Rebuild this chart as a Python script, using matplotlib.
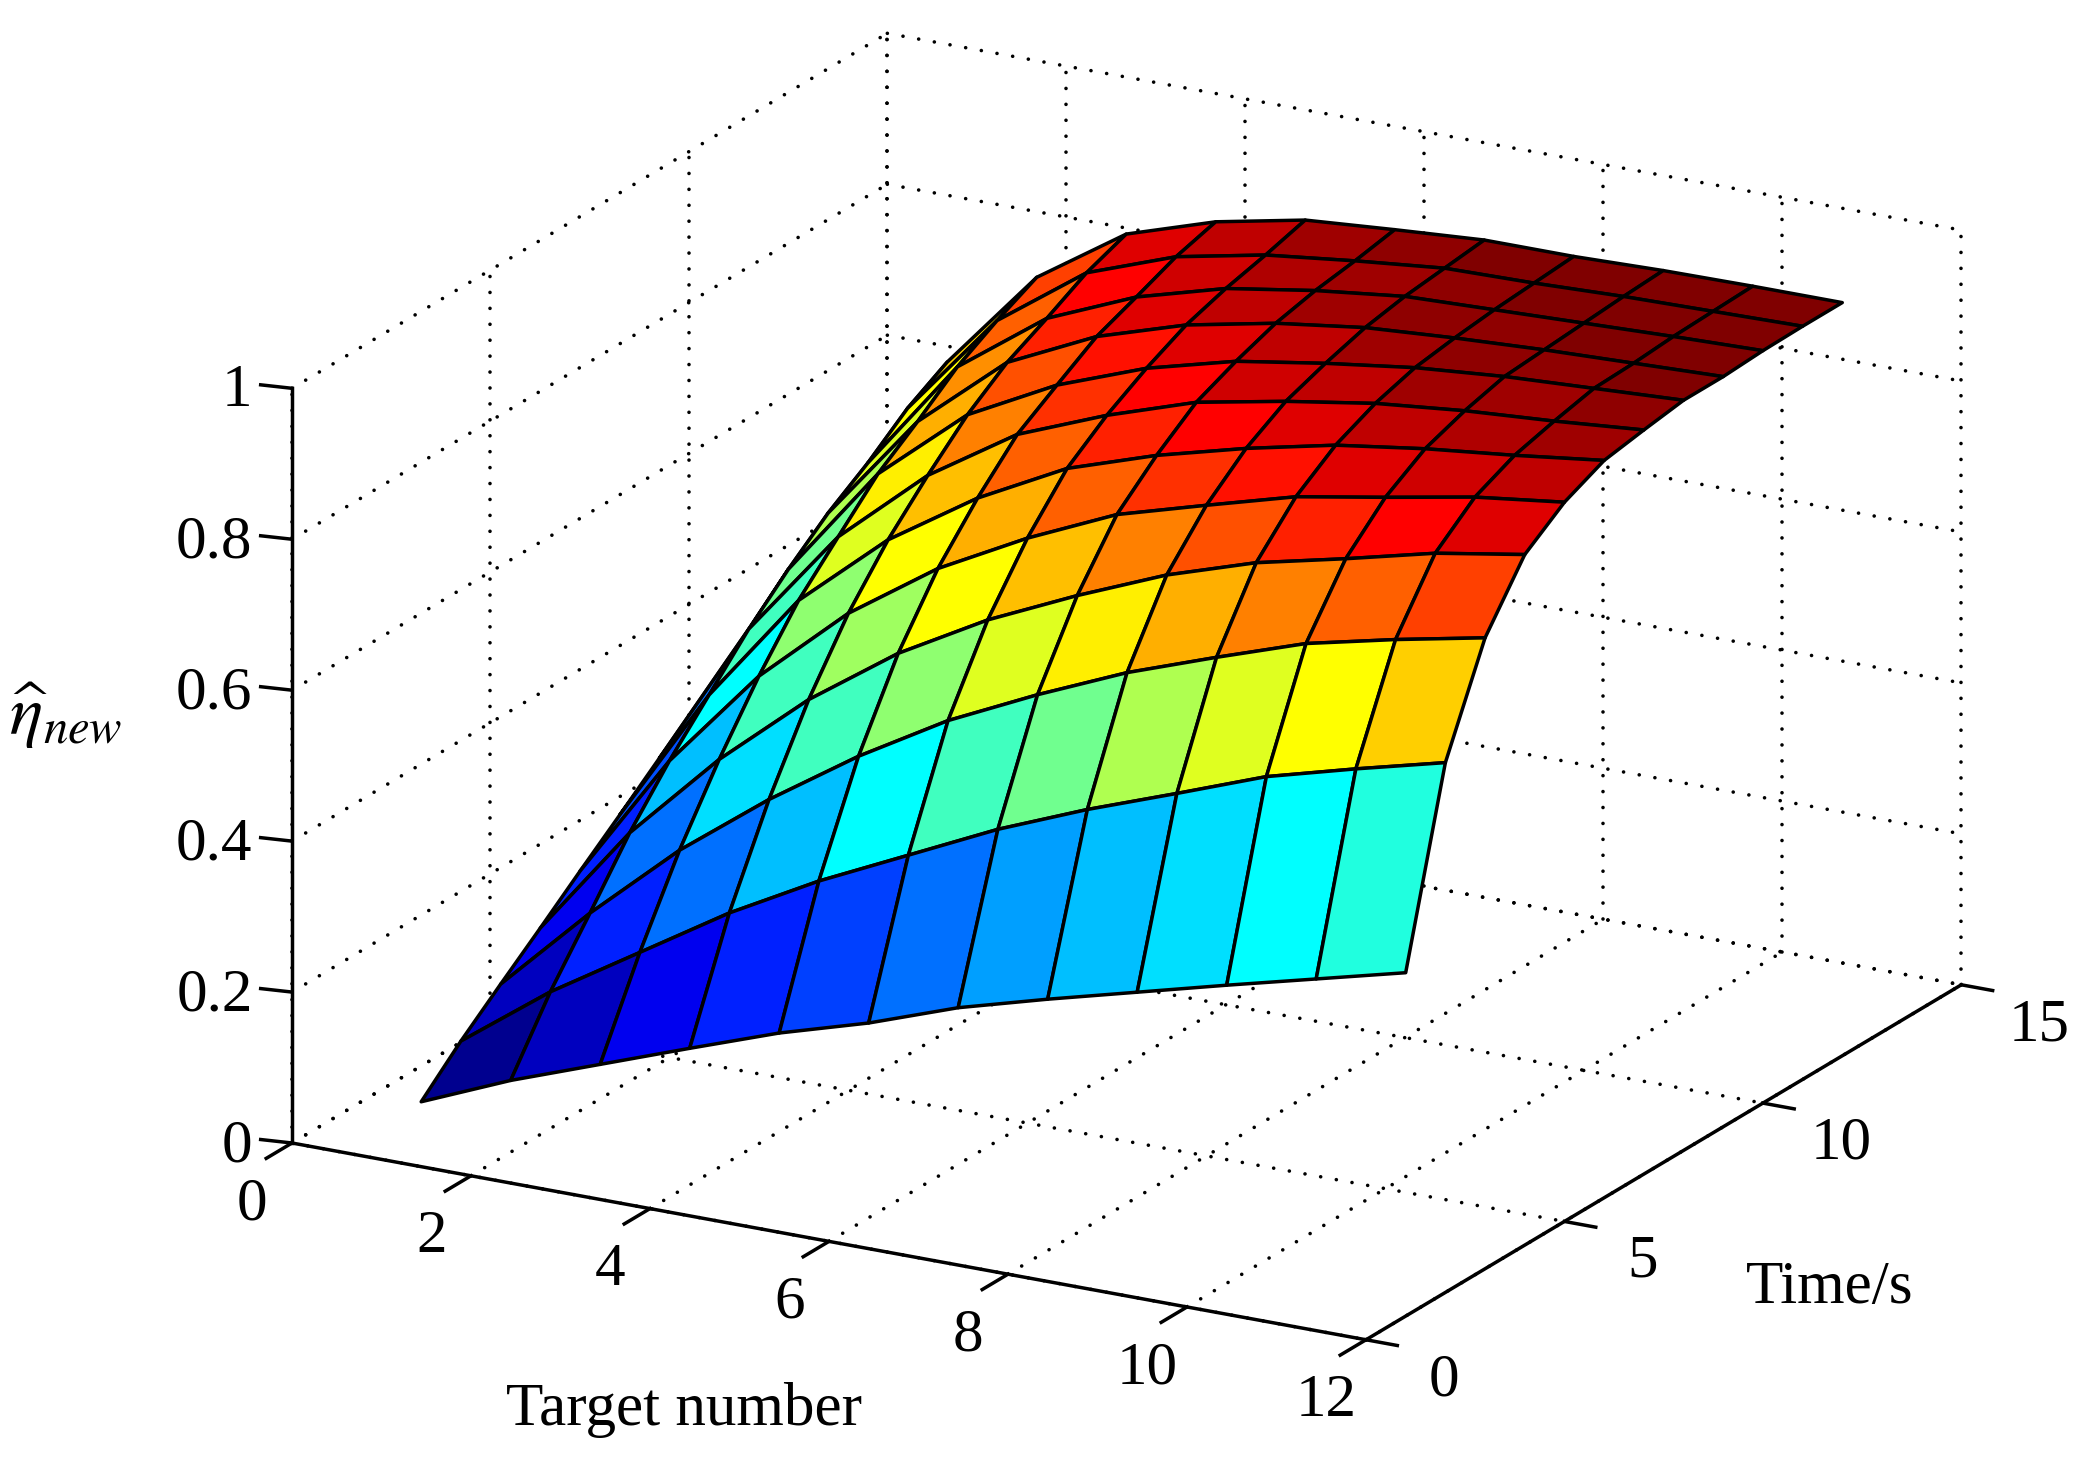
import numpy as np
import matplotlib
matplotlib.use('Agg')
import matplotlib.pyplot as plt
from matplotlib.colors import ListedColormap
from mpl_toolkits.mplot3d import proj3d

plt.rcParams['font.family'] = ['Liberation Serif', 'DejaVu Serif']
plt.rcParams['mathtext.fontset'] = 'stix'

# surface values, one list for each time step
target_number = [1, 2, 3, 4, 5, 6, 7, 8, 9, 10, 11, 12]
time_s = [1, 2, 3, 4, 5, 6, 7, 8, 9, 10, 11, 12]
eta_t1 = [.045, .095, .138, .181, .223, .258, .300, .333, .364, .395, .425, .455]
eta_t2 = [.094, .181, .255, .329, .393, .449, .505, .553, .596, .640, .672, .702]
eta_t3 = [.138, .254, .359, .448, .527, .596, .652, .703, .745, .785, .812, .836]
eta_t4 = [.181, .329, .448, .549, .632, .698, .752, .801, .839, .866, .895, .915]
eta_t5 = [.225, .393, .527, .632, .713, .775, .828, .862, .895, .916, .938, .953]
eta_t6 = [.268, .449, .596, .698, .775, .836, .875, .906, .932, .949, .962, .977]
eta_t7 = [.312, .505, .649, .752, .828, .875, .914, .937, .956, .968, .976, .986]
eta_t8 = [.350, .553, .701, .801, .862, .906, .937, .956, .972, .982, .988, .994]
eta_t9 = [.385, .596, .739, .839, .895, .932, .956, .972, .980, .986, .990, .994]
eta_t10 = [.420, .631, .780, .866, .916, .949, .968, .982, .986, .990, .994, .997]
eta_t11 = [.450, .672, .810, .895, .938, .962, .976, .988, .990, .994, .996, .998]
eta_t12 = [.480, .702, .836, .915, .953, .977, .986, .994, .994, .997, .998, .998]

x_ticks = [0, 2, 4, 6, 8, 10, 12]
y_ticks = [0, 5, 10, 15]
z_ticks = [0, 0.2, 0.4, 0.6, 0.8, 1]
z_tick_labels = ['0', '0.2', '0.4', '0.6', '0.8', '1']

fig = plt.figure(figsize=(20.79, 14.6), dpi=100)
ax = fig.add_axes([0, 0, 1460 / 2079, 1], projection='3d', computed_zorder=False)
ax.set_proj_type('ortho')
ax.view_init(elev=19.3, azim=-61)
ax.set_box_aspect((926, 926, 603))
ax.set_xlim(0, 12, view_margin=0)
ax.set_ylim(0, 15, view_margin=0)
ax.set_zlim(0, 1, view_margin=0)
ax.set_xticks([])
ax.set_yticks([])
ax.set_zticks([])
ax.set_axis_off()

X, Y = np.meshgrid(target_number, time_s)
Z = np.array([eta_t1, eta_t2, eta_t3, eta_t4, eta_t5, eta_t6,
              eta_t7, eta_t8, eta_t9, eta_t10, eta_t11, eta_t12])

# matlab's jet, matplotlib's one puts the yellow somewhere else
lev = (np.arange(64) + 1) / 64
jet = ListedColormap(np.clip(np.column_stack([1.5 - abs(4 * lev - 3),
                                              1.5 - abs(4 * lev - 2),
                                              1.5 - abs(4 * lev - 1)]), 0, 1))
colors = jet((Z - Z.min()) / (Z.max() - Z.min()))
surf = ax.plot_surface(X, Y, Z, rstride=1, cstride=1, facecolors=colors,
                       shade=False, zorder=2)
surf.set_edgecolor('k')
surf.set_linewidth(2.5)

# dotted grid on the floor and the two back walls
grid_style = dict(color='k', lw=2.6, linestyle=(0, (0.01, 4.4)),
                  dash_capstyle='round', zorder=1, clip_on=False)
x_end, y_end, z_end = x_ticks[-1], y_ticks[-1], z_ticks[-1]
for xt in x_ticks:
    ax.plot([xt, xt], [0, y_end], [0, 0], **grid_style)
    ax.plot([xt, xt], [y_end, y_end], [0, z_end], **grid_style)
for yt in y_ticks:
    ax.plot([0, x_end], [yt, yt], [0, 0], **grid_style)
    ax.plot([0, 0], [yt, yt], [0, z_end], **grid_style)
for zt in z_ticks:
    ax.plot([0, 0], [0, y_end], [zt, zt], **grid_style)
    ax.plot([0, x_end], [y_end, y_end], [zt, zt], **grid_style)

# axis lines and ticks, same as matlab with box off
axis_style = dict(color='k', lw=2.5, zorder=3, clip_on=False,
                  solid_capstyle='projecting')
ax.plot([0, x_end], [0, 0], [0, 0], **axis_style)
ax.plot([x_end, x_end], [0, y_end], [0, 0], **axis_style)
ax.plot([0, 0], [0, 0], [0, z_end], **axis_style)
for xt in x_ticks:
    ax.plot([xt, xt], [0, -0.65], [0, 0], **axis_style)
for yt in y_ticks:
    ax.plot([x_end, x_end + 0.35], [yt, yt], [0, 0], **axis_style)
for zt in z_ticks:
    ax.plot([0, -0.35], [0, 0], [zt, zt - 0.003], **axis_style)

fig.text(684 / 2079, 1 - 1410 / 1460, 'Target number', fontsize=44, ha='center', va='center')
fig.text(1830 / 2079, 1 - 1288 / 1460, 'Time/s', fontsize=44, ha='center', va='center')
fig.text(66 / 2079, 1 - 716 / 1460, r'$\widehat{\eta}_{new}$', fontsize=50, ha='center', va='center')


def to_pixels(x, y, z):
    px, py, _ = proj3d.proj_transform(x, y, z, ax.get_proj())
    return ax.transData.transform((px, py))


# move the axes so the corner of the box lands where it should
fig.canvas.draw()
p0 = to_pixels(0, 0, 0)
p1 = to_pixels(12, 0, 0)
bbox = ax.get_window_extent()
ratio = 1074 / (p1[0] - p0[0])
side = bbox.width * ratio
left = 292 - (p0[0] - bbox.x0) * ratio
bottom = (1460 - 1143) - (p0[1] - bbox.y0) * ratio
ax.set_position([left / 2079, bottom / 1460, side / 2079, side / 1460])
fig.canvas.draw()


def tick_label(x, y, z, lab, ha='center'):
    px, py = to_pixels(x, y, z)
    fig.text(px / 2079, py / 1460, lab, fontsize=44, ha=ha, va='center')


# tick labels go on last, they need the final position of the axes
for xt in x_ticks:
    tick_label(xt, -1, -0.05, str(xt))
for yt in y_ticks:
    tick_label(x_end + 0.87, yt, -0.035, str(yt))
for zt, lab in zip(z_ticks, z_tick_labels):
    tick_label(-0.44, 0, zt - 0.014, lab, ha='right')

fig.savefig('out.png', dpi=100)
